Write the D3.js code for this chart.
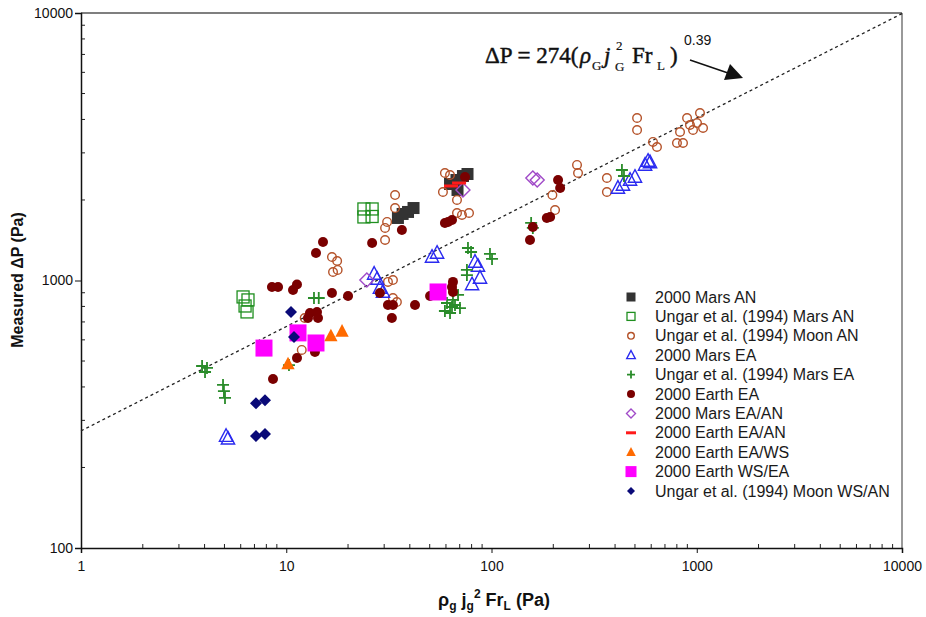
<!DOCTYPE html>
<html><head><meta charset="utf-8">
<script src="https://cdn.jsdelivr.net/npm/d3@7"></script>
<style>body{margin:0;background:#fff} svg{display:block}</style>
</head><body>
<script>
// ---- data (x = rho_g j_g^2 Fr_L [Pa], y = measured dP [Pa]) ----
const marsAN2000 = [[35.0,1713],[36.9,1773],[39.2,1804],[41.7,1866],[62.8,2295],[67.5,2375],[72.6,2458],[76.4,2501],[68.3,2180]];
const ungarMarsAN = [[6.16,868],[6.51,846],[6.30,803],[6.44,763],[23.9,1851],[26.2,1851],[23.9,1728],[26.2,1735]];
const ungarMoonAN = [[16.7,1224],[17.7,1183],[16.9,1076],[17.8,1095],[12.3,724],[11.9,550],
  [33.9,2087],[33.9,1866],[31.0,1655],[30.3,1572],[30.3,1417],
  [31.3,988],[33.1,1004],[33.1,860],[34.6,831],
  [59.3,2523],[62.8,2480],[58.0,2142],[67.9,2000],[67.9,1788],[71.8,1758],[77.7,1788],
  [198,2087],[204,1834],[261,2704],[264,2523],[365,2416],[365,2142],
  [512,4050],[512,3652],[612,3295],[640,3156],[829,3590],[801,3266],[897,4050],[1037,4228],
  [1003,3880],[1073,3716],[959,3652],[857,3266],[927,3814]];
const marsEA2000 = [[5.09,262],[5.20,256],[26.8,1058],[27.7,1013],[28.6,938],[29.6,906],
  [51.3,1224],[54.3,1267],[83.1,1173],[85.9,1133],[87.9,1022],[80.4,966],
  [413,2218],[437,2275],[473,2375],[500,2437],[560,2704],[579,2797],[592,2762]];
const ungarMarsEA = [[3.89,479],[4.11,471],[4.02,455],[4.92,407],[4.97,386],[5.03,364],
  [13.65,860],[14.4,860],[10.31,483],
  [76.8,1323],[79.5,1278],[98.3,1257],[100.6,1204],[75.9,1095],[75.9,1048],
  [64.9,846],[64.2,796],[59.3,769],[62.8,756],[66.4,810],[68.7,883],[60.7,824],[70.2,789],
  [432,2589],[442,2458],[156,1641],[159,1572]];
const earthEA2000 = [[8.62,428],[11.28,513],[13.8,540],[15.1,1393],[13.96,1267],[8.52,946],[9.12,946],
  [10.79,921],[11.28,966],[16.7,898],[20.0,875],[13.05,756],[14.12,763],[14.28,724],[12.76,724],
  [26.2,1381],[36.6,1545],[28.6,898],[31.3,810],[33.1,810],[32.7,724],[42.4,810],[50.2,875],
  [64.2,946],[64.9,988],[64.9,906],[59.3,1641],[61.4,1655],[64.2,1684],[74.3,2437],
  [211,2375],[216,2218],[193,1728],[186,1713],[159,1585],[154,1417]];
const marsEAAN2000 = [[159,2416],[167,2375],[24.7,1004],[72.6,2180]];
const earthEAAN2000 = [[63.5,2256],[69.5,2315]];
const earthEAWS2000 = [[10.2,487],[16.5,620],[18.7,645]];
const earthWSEA2000 = [[7.79,559],[11.41,637],[13.96,584],[54.9,906]];
const ungarMoonWSAN = [[10.55,763],[10.91,615],[7.12,348],[7.88,357],[7.12,262],[7.88,267]];

const seriesNames = ["2000 Mars AN","Ungar et al. (1994) Mars AN","Ungar et al. (1994) Moon AN","2000 Mars EA",
  "Ungar et al. (1994) Mars EA","2000 Earth EA","2000 Mars EA/AN","2000 Earth EA/AN","2000 Earth EA/WS",
  "2000 Earth WS/EA","Ungar et al. (1994) Moon WS/AN"];
const seriesData = [marsAN2000,ungarMarsAN,ungarMoonAN,marsEA2000,ungarMarsEA,earthEA2000,marsEAAN2000,earthEAAN2000,earthEAWS2000,earthWSEA2000,ungarMoonWSAN];
const seriesMarker = ["sqFill","sqOpen","circOpen","triOpen","plus","circFill","diaOpen","dash","triFill","sqFill","diaFill"];
const seriesColor = ["#333333","#1f8f1f","#b5532a","#2a2af0","#2a8c2a","#7a0000","#a04ac8","#ff1a1a","#ff6a00","#ff00ff","#0a0a78"];
const seriesSize = [12,12,10,14,12,10,14,14,14,17,12];

const xTicks = [1,10,100,1000,10000];
const yTicks = [100,1000,10000];
const fitCoef = 274, fitExp = 0.39;

// ---- layout ----
const W = 926, H = 617;
const svg = d3.select("body").append("svg").attr("width",W).attr("height",H);
const x = d3.scaleLog().domain([1,10000]).range([81,902]);
const y = d3.scaleLog().domain([100,10000]).range([548,13]);

// frame
svg.append("line").attr("x1",81).attr("x2",902).attr("y1",13).attr("y2",13).attr("stroke","#555").attr("stroke-width",1.5);
svg.append("line").attr("x1",902).attr("x2",902).attr("y1",13).attr("y2",548).attr("stroke","#555").attr("stroke-width",1.2);

// minor ticks
const minorX = [];
for (let d=1; d<10000; d*=10) for (let k=2;k<10;k++) minorX.push(d*k);
const minorY = [];
for (let d=100; d<10000; d*=10) for (let k=2;k<10;k++) minorY.push(d*k);
svg.append("g").selectAll("line").data(minorX).join("line")
  .attr("x1",d=>x(d)).attr("x2",d=>x(d)).attr("y1",548).attr("y2",544).attr("stroke","#222");
svg.append("g").selectAll("line").data(minorY).join("line")
  .attr("y1",d=>y(d)).attr("y2",d=>y(d)).attr("x1",81).attr("x2",85).attr("stroke","#222");

// axes
const xAxis = d3.axisBottom(x).tickValues(xTicks).tickFormat(d3.format("d")).tickSize(5).tickPadding(8);
const gx = svg.append("g").attr("transform","translate(0,548)").call(xAxis);
const yAxis = d3.axisLeft(y).tickValues(yTicks).tickFormat(d3.format("d")).tickSize(6).tickPadding(2);
const gy = svg.append("g").attr("transform","translate(81,0)").call(yAxis);
[gx,gy].forEach(g=>{
  g.select(".domain").attr("stroke","#111").attr("stroke-width",1.5);
  g.selectAll(".tick line").attr("stroke","#111");
  g.selectAll("text").attr("font-family","Liberation Sans, Arial, sans-serif").attr("font-size",14).attr("fill","#111");
});

// fit line
const fitX = [1,10000];
svg.append("path")
  .attr("d", d3.line().x(d=>x(d)).y(d=>y(fitCoef*Math.pow(d,fitExp)))(fitX))
  .attr("fill","none").attr("stroke","#222").attr("stroke-width",1.3).attr("stroke-dasharray","3,3");

// markers
function marker(g, type, s, c){
  const h = s/2;
  switch(type){
    case "sqFill": g.append("rect").attr("x",-h).attr("y",-h).attr("width",s).attr("height",s).attr("fill",c); break;
    case "sqOpen": g.append("rect").attr("x",-h).attr("y",-h).attr("width",s).attr("height",s).attr("fill","none").attr("stroke",c).attr("stroke-width",1.3); break;
    case "circOpen": g.append("circle").attr("r",h-0.7).attr("fill","none").attr("stroke",c).attr("stroke-width",1.4); break;
    case "circFill": g.append("circle").attr("r",h).attr("fill",c); break;
    case "triOpen": g.append("path").attr("d",`M0,${-h*1.05}L${h*0.95},${h*0.75}L${-h*0.95},${h*0.75}Z`).attr("fill","none").attr("stroke",c).attr("stroke-width",1.4); break;
    case "triFill": g.append("path").attr("d",`M0,${-h*1.05}L${h*0.95},${h*0.75}L${-h*0.95},${h*0.75}Z`).attr("fill",c); break;
    case "plus": g.append("path").attr("d",`M${-h},0H${h}M0,${-h}V${h}`).attr("stroke",c).attr("stroke-width",1.8); break;
    case "diaOpen": g.append("path").attr("d",`M0,${-h}L${h},0L0,${h}L${-h},0Z`).attr("fill","none").attr("stroke",c).attr("stroke-width",1.4); break;
    case "diaFill": g.append("path").attr("d",`M0,${-h}L${h},0L0,${h}L${-h},0Z`).attr("fill",c); break;
    case "dash": g.append("path").attr("d",`M${-h},0H${h}`).attr("stroke",c).attr("stroke-width",3); break;
  }
}
const plot = svg.append("g");
seriesData.forEach((data,i)=>{
  plot.append("g").selectAll("g").data(data).join("g")
    .attr("transform",d=>`translate(${x(d[0])},${y(d[1])})`)
    .each(function(){ marker(d3.select(this), seriesMarker[i], seriesSize[i], seriesColor[i]); });
});

// legend
const leg = svg.append("g");
seriesNames.forEach((n,i)=>{
  const yy = 297 + i*19.4;
  const mg = leg.append("g").attr("transform",`translate(631,${yy})`);
  const ls = {sqFill:9,sqOpen:8,circOpen:8,triOpen:9,plus:8,circFill:8,diaOpen:9,dash:10,triFill:10,diaFill:8}[seriesMarker[i]];
  marker(mg, seriesMarker[i], i===9?11:ls, seriesColor[i]);
  leg.append("text").attr("x",655).attr("y",yy+5.5).text(n)
    .attr("font-family","Liberation Sans, Arial, sans-serif").attr("font-size",16).attr("fill","#1a1a1a");
});

// equation annotation
const ann = svg.append("g").attr("font-family","Liberation Serif, Times New Roman, serif").attr("fill","#111")
  .attr("stroke","#111").attr("stroke-width",0.45);
function t(xx,yy,s,size,opts={}){
  const e = ann.append("text").attr("x",xx).attr("y",yy).attr("font-size",size).text(s);
  if(opts.italic) e.attr("font-style","italic");
  if(opts.thin) e.attr("stroke-width",0.2);
  if(opts.sans) e.attr("font-family","Liberation Sans, Arial, sans-serif").attr("stroke","none");
  return e;
}
t(485,63,"\u0394P = 274(",23);
t(580,63,"\u03C1",23,{italic:true});
t(592,70,"G",13,{thin:true});
t(604,63,"j",23,{italic:true});
t(616,50,"2",13,{thin:true});
t(615,71,"G",13,{thin:true});
t(632,63,"Fr",23);
t(657,70,"L",13,{thin:true});
t(670,63,")",23);
t(684,45,"0.39",14,{sans:true});
svg.append("line").attr("x1",690).attr("y1",60).attr("x2",728).attr("y2",73).attr("stroke","#111").attr("stroke-width",1.5);
svg.append("path").attr("d","M743,78L724,80L730,64Z").attr("fill","#111");

// axis titles
svg.append("text").attr("transform","translate(23,280) rotate(-90)").attr("text-anchor","middle")
  .attr("font-family","Liberation Sans, Arial, sans-serif").attr("font-weight","bold").attr("font-size",16).attr("fill","#111")
  .text("Measured \u0394P (Pa)");
const xl = svg.append("text").attr("x",494).attr("y",606).attr("text-anchor","middle")
  .attr("font-family","Liberation Sans, Arial, sans-serif").attr("font-weight","bold").attr("font-size",18).attr("fill","#111");
xl.append("tspan").text("\u03C1");
xl.append("tspan").attr("font-size",12).attr("dy",4).text("g");
xl.append("tspan").attr("dy",-4).text(" j");
xl.append("tspan").attr("font-size",12).attr("dy",4).text("g");
xl.append("tspan").attr("font-size",12).attr("dy",-12).text("2");
xl.append("tspan").attr("dy",8).text(" Fr");
xl.append("tspan").attr("font-size",12).attr("dy",4).text("L");
xl.append("tspan").attr("dy",-4).text(" (Pa)");
</script>
</body></html>
